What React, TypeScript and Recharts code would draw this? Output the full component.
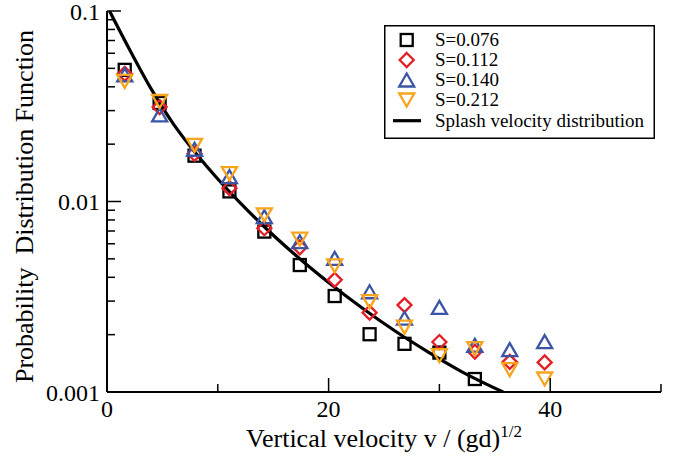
import React from "react";
import { ComposedChart, XAxis, YAxis, Line, Scatter } from "recharts";

const xPositions = [1.6, 4.75, 7.9, 11.05, 14.2, 17.4, 20.55, 23.7, 26.85, 30.0, 33.2, 36.35, 39.5];
const s076 = [0.0491, 0.0329, 0.0174, 0.0113, 0.00695, 0.00464, 0.00319, 0.00201, 0.00179, 0.00161, 0.00117];
const s112 = [0.0468, 0.0313, 0.0178, 0.01175, 0.00724, 0.00575, 0.00388, 0.00261, 0.00286, 0.00183, 0.00163, 0.00144, 0.00143];
const s140 = [0.0462, 0.0285, 0.0188, 0.0135, 0.00833, 0.00615, 0.00503, 0.00336, 0.00244, 0.00278, 0.00176, 0.00167, 0.00184];
const s212 = [0.0427, 0.0335, 0.0197, 0.014, 0.00851, 0.00634, 0.00459, 0.00298, 0.00219, 0.00155, 0.00169, 0.00131, 0.00117];

const curveX = [0.23, 2, 4, 6, 8, 10, 12, 14, 17, 20, 23, 26, 29, 32, 35.75];
const curveY = [0.1, 0.0634, 0.0389, 0.0255, 0.01795, 0.01312, 0.00986, 0.00755, 0.00524, 0.00376, 0.00277, 0.00209, 0.00162, 0.00128, 0.001];

const seriesNames = ["S=0.076", "S=0.112", "S=0.140", "S=0.212"];
const curveName = "Splash velocity distribution";
const xTicks = [0, 10, 20, 30, 40, 50];
const yTicks = [
  0.001, 0.002, 0.003, 0.004, 0.005, 0.006, 0.007, 0.008, 0.009,
  0.01, 0.02, 0.03, 0.04, 0.05, 0.06, 0.07, 0.08, 0.09, 0.1,
];
const xTitle = "Vertical velocity v / (gd)";
const xTitleSup = "1/2";
const yTitle = "Probability\u00a0 Distribution Function";

const COLORS = ["#000000", "#e41e26", "#3b55a5", "#f8a41c"];
const KINDS = ["square", "diamond", "up", "down"];
const FONT = "'Liberation Serif', 'Times New Roman', Times, serif";

const toPoints = (vals: number[]) => vals.map((y, i) => ({ x: xPositions[i], y }));
const seriesData = [s076, s112, s140, s212].map(toPoints);
const curveData = curveX.map((x, i) => ({ x, y: curveY[i] }));

function MarkerShape({ kind, cx, cy, color }: { kind: string; cx: number; cy: number; color: string }) {
  const sw = 2.3;
  if (kind === "square") {
    return <rect x={cx - 6} y={cy - 6} width={12} height={12} fill="none" stroke={color} strokeWidth={sw} />;
  }
  if (kind === "diamond") {
    const r = 7;
    return (
      <polygon
        points={`${cx},${cy - r} ${cx + r},${cy} ${cx},${cy + r} ${cx - r},${cy}`}
        fill="none"
        stroke={color}
        strokeWidth={sw}
      />
    );
  }
  if (kind === "up") {
    return (
      <polygon
        points={`${cx},${cy - 6.5} ${cx + 7.5},${cy + 6.5} ${cx - 7.5},${cy + 6.5}`}
        fill="none"
        stroke={color}
        strokeWidth={sw}
      />
    );
  }
  return (
    <polygon
      points={`${cx},${cy + 6.5} ${cx + 7.5},${cy - 6.5} ${cx - 7.5},${cy - 6.5}`}
      fill="none"
      stroke={color}
      strokeWidth={sw}
    />
  );
}

const isDecade = (v: number) => Math.abs(Math.log10(v) - Math.round(Math.log10(v))) < 1e-6;
const fmtY = (v: number) => (v >= 0.1 ? "0.1" : v >= 0.01 ? "0.01" : "0.001");

function BottomTick(props: any) {
  const { x, y, payload } = props;
  const v = payload.value;
  const major = v % 20 === 0;
  return (
    <g>
      <line x1={x} y1={y} x2={x} y2={y - (major ? 14 : 8)} stroke="#000" strokeWidth={1.5} />
      {major && (
        <text x={x} y={y + 25} textAnchor="middle" fontFamily={FONT} fontSize={24} fill="#000">
          {v}
        </text>
      )}
    </g>
  );
}

function TopTick(props: any) {
  const { x, y, payload } = props;
  const major = payload.value % 20 === 0;
  return <line x1={x} y1={y} x2={x} y2={y + (major ? 14 : 8)} stroke="#000" strokeWidth={1.5} />;
}

function LeftTick(props: any) {
  const { x, y, payload } = props;
  const major = isDecade(payload.value);
  return (
    <g>
      <line x1={x} y1={y} x2={x + (major ? 14 : 8)} y2={y} stroke="#000" strokeWidth={1.5} />
      {major && (
        <text x={x - 7} y={y + 8.5} textAnchor="end" fontFamily={FONT} fontSize={24} fill="#000">
          {fmtY(payload.value)}
        </text>
      )}
    </g>
  );
}

function RightTick(props: any) {
  const { x, y, payload } = props;
  const major = isDecade(payload.value);
  return <line x1={x} y1={y} x2={x - (major ? 14 : 8)} y2={y} stroke="#000" strokeWidth={1.5} />;
}

function XTitle() {
  return (
    <text x={384} y={446.7} textAnchor="middle" fontFamily={FONT} fontSize={26} fill="#000">
      {xTitle}
      <tspan dy={-10} fontSize={17}>
        {xTitleSup}
      </tspan>
    </text>
  );
}

function YTitle() {
  return (
    <text
      x={33}
      y={206.5}
      transform="rotate(-90 33 206.5)"
      textAnchor="middle"
      fontFamily={FONT}
      fontSize={26}
      fill="#000"
    >
      {yTitle}
    </text>
  );
}

function LegendBox() {
  const rows = [15, 35, 55, 75];
  return (
    <svg
      width={271}
      height={114}
      style={{ position: "absolute", left: 384, top: 25, overflow: "visible" }}
    >
      <rect x={0.75} y={0.75} width={269.5} height={112.5} fill="#fff" stroke="#000" strokeWidth={1.5} />
      {seriesNames.map((name, i) => (
        <g key={name}>
          <MarkerShape kind={KINDS[i]} cx={22.7} cy={rows[i]} color={COLORS[i]} />
          <text x={51} y={rows[i] + 6} fontFamily={FONT} fontSize={19} fill="#000">
            {name}
          </text>
        </g>
      ))}
      <line x1={9} y1={95.7} x2={37} y2={95.7} stroke="#000" strokeWidth={3.2} />
      <text x={51} y={95.7 + 6} fontFamily={FONT} fontSize={19} fill="#000">
        {curveName}
      </text>
    </svg>
  );
}

export default function App() {
  return (
    <div style={{ position: "absolute", left: 0, top: 0, width: 679, height: 459, background: "#fff" }}>
      <ComposedChart width={679} height={459} margin={{ top: 11, right: 18, bottom: 0, left: 0 }}>
        <XAxis
          xAxisId="b"
          type="number"
          dataKey="x"
          domain={[0, 50]}
          ticks={xTicks}
          interval={0}
          height={67}
          tickSize={0}
          tickMargin={0}
          tickLine={false}
          axisLine={{ stroke: "#000", strokeWidth: 2 }}
          tick={<BottomTick />}
          allowDataOverflow
          label={<XTitle />}
        />
        <XAxis
          xAxisId="t"
          orientation="top"
          type="number"
          dataKey="x"
          domain={[0, 50]}
          ticks={xTicks}
          interval={0}
          height={0}
          tickSize={0}
          tickMargin={0}
          tickLine={false}
          axisLine={{ stroke: "#000", strokeWidth: 2 }}
          tick={<TopTick />}
          allowDataOverflow
        />
        <YAxis
          yAxisId="l"
          type="number"
          dataKey="y"
          scale="log"
          domain={[0.001, 0.1]}
          ticks={yTicks}
          interval={0}
          width={107}
          tickSize={0}
          tickMargin={0}
          tickLine={false}
          axisLine={{ stroke: "#000", strokeWidth: 2 }}
          tick={<LeftTick />}
          allowDataOverflow
          label={<YTitle />}
        />
        <YAxis
          yAxisId="r"
          orientation="right"
          type="number"
          dataKey="y"
          scale="log"
          domain={[0.001, 0.1]}
          ticks={yTicks}
          interval={0}
          width={0}
          tickSize={0}
          tickMargin={0}
          tickLine={false}
          axisLine={{ stroke: "#000", strokeWidth: 2 }}
          tick={<RightTick />}
          allowDataOverflow
        />
        <Line
          xAxisId="b"
          yAxisId="l"
          data={curveData}
          dataKey="y"
          type="monotone"
          stroke="#000"
          strokeWidth={3.2}
          dot={false}
          activeDot={false}
          isAnimationActive={false}
          name={curveName}
        />
        {seriesData.map((d, i) => (
          <Scatter
            key={seriesNames[i]}
            xAxisId="b"
            yAxisId="l"
            data={d}
            dataKey="y"
            name={seriesNames[i]}
            isAnimationActive={false}
            shape={(p: any) => <MarkerShape kind={KINDS[i]} cx={p.cx} cy={p.cy} color={COLORS[i]} />}
          />
        ))}
      </ComposedChart>
      <LegendBox />
    </div>
  );
}
